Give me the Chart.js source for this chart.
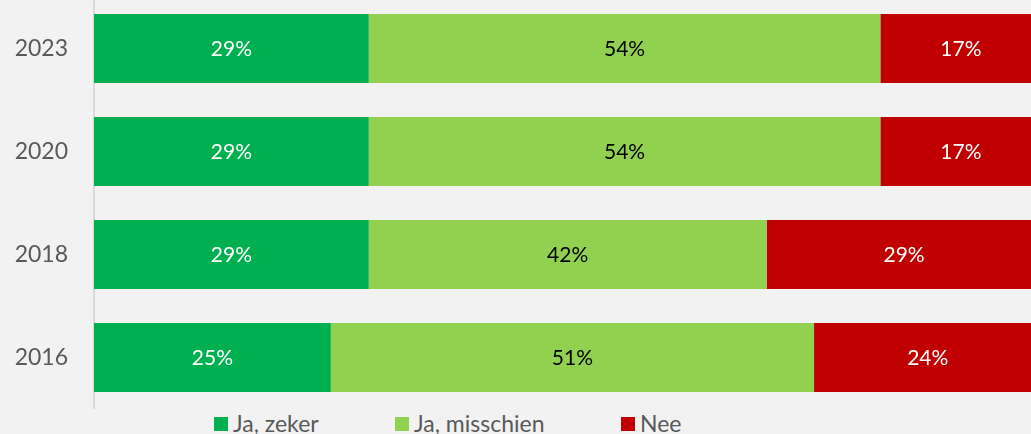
<!DOCTYPE html>
<html lang="nl">
<head>
<meta charset="utf-8">
<script src="https://cdn.jsdelivr.net/npm/chart.js@4.4.1/dist/chart.umd.min.js"></script>
<style>
  html, body { margin: 0; padding: 0; background: #f2f2f2; }
  body { width: 1031px; height: 434px; position: relative; overflow: hidden; font-family: Lato, "Open Sans", sans-serif; }
  #wrap { position: absolute; left: 0; top: -3px; width: 1031px; height: 412px; }
  #legend { position: absolute; left: 214px; top: 410px; display: flex; align-items: center; height: 26px; }
  .item { display: flex; align-items: center; color: #595959; font-size: 23px; line-height: 26px; white-space: nowrap; }
  .item:nth-child(1) { width: 181px; }
  .item:nth-child(2) { width: 226px; }
  .swatch { width: 14px; height: 14px; margin-right: 5px; margin-top: 2px; flex: none; }
</style>
</head>
<body>
<div id="wrap"><canvas id="chart"></canvas></div>
<div id="legend"></div>
<script>
// Survey years, top to bottom
const years = ['2023', '2020', '2018', '2016'];

// Share of answers per year (%)
const jaZeker = [29, 29, 29, 25];
const jaMisschien = [54, 54, 42, 51];
const nee = [17, 17, 29, 24];

const seriesNames = ['Ja, zeker', 'Ja, misschien', 'Nee'];
const seriesColors = ['#00b050', '#92d050', '#c00000'];
const labelColors = ['#ffffff', '#000000', '#ffffff'];

const FONT = 'Lato, "Open Sans", sans-serif';

// Percentage labels centred in every segment
const segmentLabels = {
  id: 'segmentLabels',
  afterDatasetsDraw(chart) {
    const ctx = chart.ctx;
    ctx.save();
    ctx.font = '21px ' + FONT;
    ctx.textAlign = 'center';
    ctx.textBaseline = 'middle';
    chart.data.datasets.forEach((ds, i) => {
      const meta = chart.getDatasetMeta(i);
      meta.data.forEach((bar, j) => {
        const c = bar.getCenterPoint();
        ctx.fillStyle = labelColors[i];
        ctx.fillText(ds.data[j] + '%', c.x, c.y + 1);
      });
    });
    ctx.restore();
  }
};

const chart = new Chart(document.getElementById('chart'), {
  type: 'bar',
  data: {
    labels: years,
    datasets: [jaZeker, jaMisschien, nee].map((values, i) => ({
      label: seriesNames[i],
      data: values,
      backgroundColor: seriesColors[i],
      borderWidth: 0,
      barPercentage: 0.67,
      categoryPercentage: 1
    }))
  },
  options: {
    indexAxis: 'y',
    responsive: true,
    maintainAspectRatio: false,
    animation: false,
    layout: { padding: 0 },
    plugins: {
      legend: { display: false },
      tooltip: { enabled: false }
    },
    scales: {
      x: {
        stacked: true,
        display: false,
        min: 0,
        max: 98.9
      },
      y: {
        stacked: true,
        grid: { display: false, drawTicks: false },
        border: { display: true, color: '#d9d9d9', width: 2 },
        ticks: {
          color: '#595959',
          font: { family: FONT, size: 23 },
          padding: 26
        },
        afterFit(scale) {
          scale.width = 94;
          scale.paddingTop = 0;
          scale.paddingBottom = 0;
        }
      }
    }
  },
  plugins: [segmentLabels]
});

// Legend built from the chart's datasets
const legend = document.getElementById('legend');
chart.data.datasets.forEach(ds => {
  const item = document.createElement('div');
  item.className = 'item';
  const sw = document.createElement('span');
  sw.className = 'swatch';
  sw.style.background = ds.backgroundColor;
  const txt = document.createElement('span');
  txt.textContent = ds.label;
  item.appendChild(sw);
  item.appendChild(txt);
  legend.appendChild(item);
});
</script>
</body>
</html>
